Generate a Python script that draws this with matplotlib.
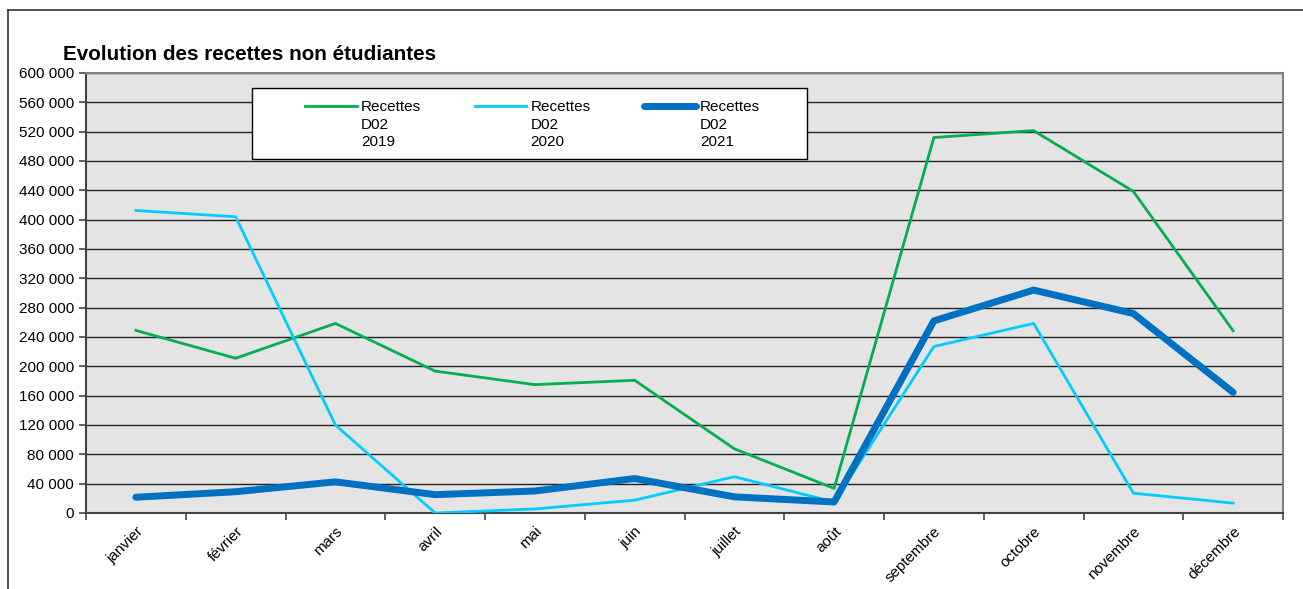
import matplotlib
matplotlib.use('Agg')
import matplotlib.pyplot as plt
from matplotlib.lines import Line2D
from matplotlib.patches import Rectangle
from matplotlib.ticker import FuncFormatter, MultipleLocator
import numpy as np

plt.rcParams['font.family'] = ['Liberation Sans', 'DejaVu Sans']

mois = ['janvier', 'février', 'mars', 'avril', 'mai', 'juin', 'juillet',
        'août', 'septembre', 'octobre', 'novembre', 'décembre']
recettes_2019 = [249000, 211000, 258500, 193500, 175000, 181000, 87500,
                 33500, 512000, 521500, 438500, 248500]
recettes_2020 = [412500, 404000, 120000, 0, 5500, 17500, 49500,
                 15000, 227000, 258500, 27000, 13500]
recettes_2021 = [21500, 29000, 42500, 25000, 30000, 47000, 22000,
                 15000, 262000, 304000, 272000, 164500]
labels = ['Recettes\nD02\n2019', 'Recettes\nD02\n2020', 'Recettes\nD02\n2021']

W, H = 1303, 589
fig = plt.figure(figsize=(W/100, H/100), dpi=100)
ax = fig.add_axes([86/W, 1 - 513/H, (1283 - 86)/W, (513 - 73)/H])
ax.set_facecolor('#E4E4E4')

x = np.arange(len(mois))
ax.plot(x, recettes_2019, color='#00B050', lw=2, label=labels[0], zorder=3)
ax.plot(x, recettes_2020, color='#00CCFF', lw=2, label=labels[1], zorder=3)
ax.plot(x, recettes_2021, color='#0070C0', lw=5, label=labels[2], zorder=4,
        solid_capstyle='round')

ax.set_xlim(-0.5, len(mois) - 0.5)
ax.set_ylim(0, 600000)
ax.yaxis.set_major_locator(MultipleLocator(40000))
ax.yaxis.set_major_formatter(FuncFormatter(lambda v, p: f'{int(v):,}'.replace(',', ' ')))
ax.grid(axis='y', color='#222222', lw=1, zorder=1)
ax.set_axisbelow(True)

ax.set_xticks(x)
ax.set_xticklabels(mois, rotation=45, ha='right', rotation_mode='anchor', fontsize=11)
ax.set_xticks(np.arange(-0.5, len(mois)), minor=True)
ax.tick_params(axis='x', which='major', length=0, pad=8)
ax.tick_params(axis='x', which='minor', length=5, width=1.2, color='#444444', direction='out')
ax.tick_params(axis='y', length=5, width=1.2, color='#444444', labelsize=11)

for side in ['left', 'bottom']:
    ax.spines[side].set_color('#444444')
    ax.spines[side].set_linewidth(1.5)
for side in ['top', 'right']:
    ax.spines[side].set_color('#808080')
    ax.spines[side].set_linewidth(1.5)

fig.text(63/W, 1 - 60/H, 'Evolution des recettes non étudiantes',
         fontsize=14.9, fontweight='bold', va='baseline')

# legend box drawn by hand, entries placed inside
box = Rectangle((252/W, 1 - 159/H), (807 - 252)/W, (159 - 88)/H, transform=fig.transFigure,
                facecolor='white', edgecolor='black', lw=1, zorder=5.5, clip_on=False)
ax.add_patch(box)

leg = ax.legend(ncol=3, loc='upper left', bbox_to_anchor=(305/W, 1 - 100/H),
                bbox_transform=fig.transFigure, fontsize=11, frameon=False,
                handlelength=3.4, handleheight=1.2, handletextpad=0.26,
                columnspacing=3.5, borderpad=0, borderaxespad=0)
leg.set_zorder(6)
for t in leg.get_texts():
    t.set_linespacing(1.32)
for col in leg._legend_handle_box.get_children():
    for item in col.get_children():
        item.align = 'top'

fig.add_artist(Line2D([8/W, 8/W], [0, 1 - 10/H], color='#333333', lw=1.2))
fig.add_artist(Line2D([8/W, 1], [1 - 10/H, 1 - 10/H], color='#333333', lw=1.2))

fig.savefig('out.png', dpi=100)
